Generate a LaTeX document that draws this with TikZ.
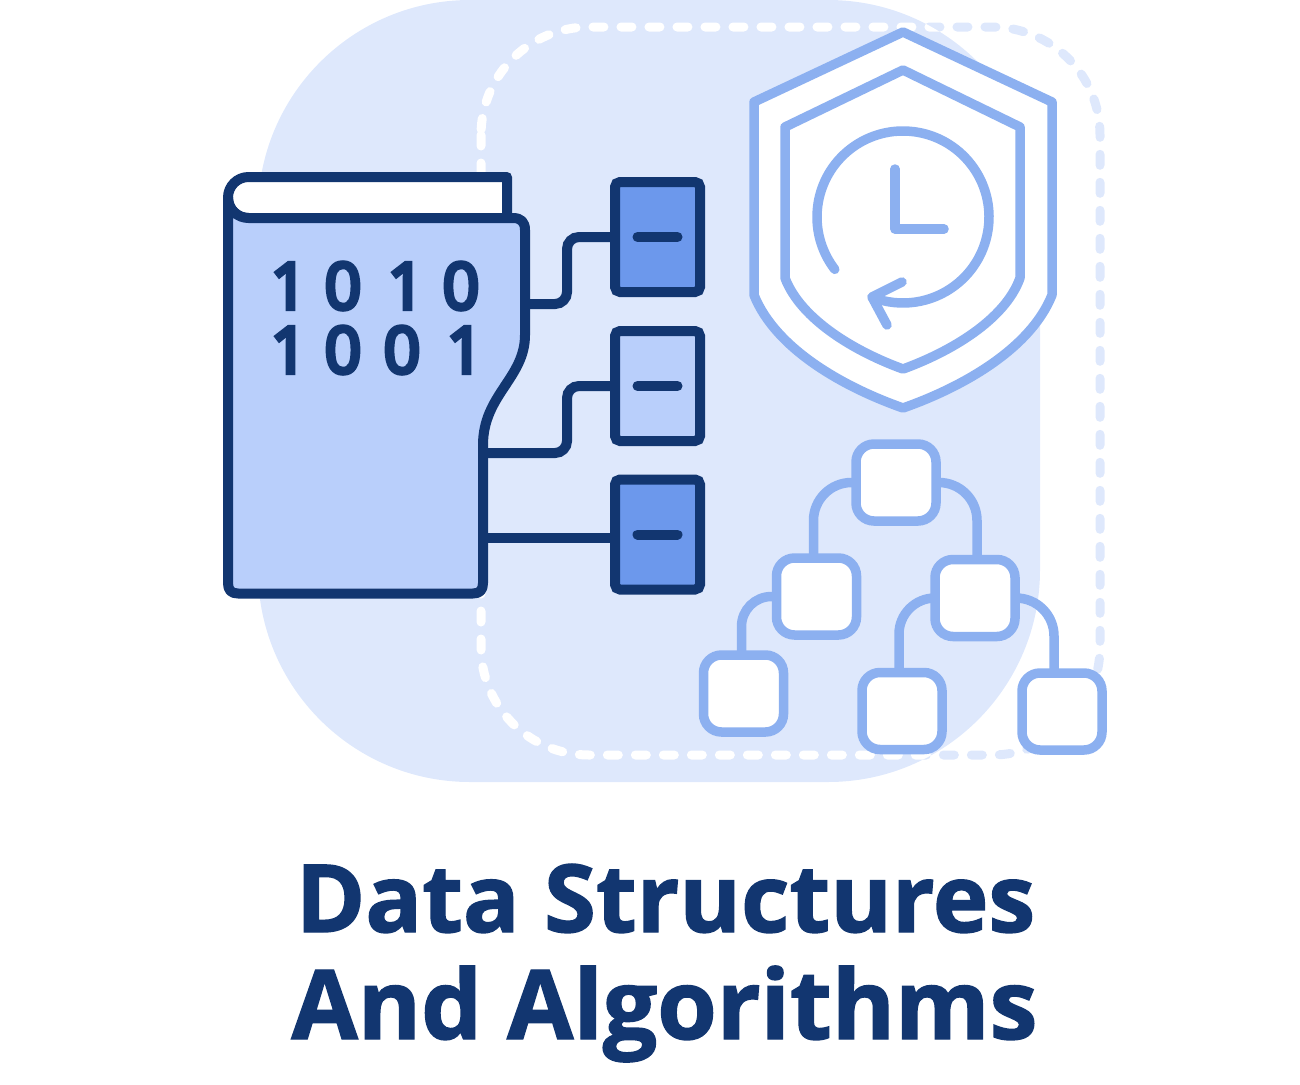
\documentclass[tikz,border=0pt]{standalone}
\usepackage{fontspec}
\setmainfont[BoldFeatures={FakeBold=1.5}]{Open Sans}
\newfontfamily\digitfont[FakeBold=7]{Open Sans}
\definecolor{mynavy}{RGB}{18,54,112}
\definecolor{mypale}{RGB}{222,232,252}
\definecolor{mylight}{RGB}{185,207,251}
\definecolor{mymid}{RGB}{108,152,236}
\definecolor{myline}{RGB}{140,176,240}
\usetikzlibrary{calc,positioning}
\tikzstyle{blockbox}=[draw=mynavy,line width=10pt,rectangle,rounded corners=5pt,minimum width=85pt,minimum height=110pt,inner sep=0pt,outer sep=0pt]
\tikzstyle{treebox}=[draw=myline,fill=white,line width=9.5pt,rectangle,rounded corners=18pt,minimum width=80pt,minimum height=77pt,inner sep=0pt,outer sep=0pt]
\tikzstyle{digit}=[text=mynavy,inner sep=0pt,font=\digitfont\fontsize{64}{64}\selectfont]
\tikzstyle{wire}=[draw=mynavy,line width=10pt,rounded corners=12pt]
\tikzstyle{treeline}=[draw=myline,line width=9.5pt]
\tikzstyle{dashline}=[line width=9pt,line cap=round,dash pattern=on 11pt off 17pt,rounded corners=108pt]
\tikzset{titletext/.style={text=mynavy,anchor=base,inner sep=0pt,font=\bfseries\fontsize{#1}{#1}\selectfont}}

\begin{document}
\begin{tikzpicture}[x=1pt,y=-1pt]
\useasboundingbox (0,0) rectangle (1300,1084);
\fill[mypale,rounded corners=212pt] (258,0) rectangle (1040,782);
\draw[dashline,draw=mypale] (481,27) rectangle (1100,755);
\begin{scope}
\clip[rounded corners=212pt] (258,0) rectangle (1040,782);
\draw[dashline,draw=white] (481,27) rectangle (1100,755);
\end{scope}
% book
\draw[draw=mynavy,fill=white,line width=10pt,line join=round] (507,218) -- (507,177) -- (248.5,177) arc[start angle=270,end angle=90,radius=20.5] -- cycle;
\draw[draw=mynavy,fill=mylight,line width=10pt,line join=round] (228,197.5) .. controls (228,210) and (238,218) .. (248.5,218) -- (513,218) .. controls (521,218) and (525,222) .. (525,230) -- (525,335) .. controls (525,378) and (483,395) .. (483,445) -- (483,583) .. controls (483,590) and (480,593.5) .. (473,593.5) -- (238,593.5) .. controls (231,593.5) and (228,590) .. (228,583) -- cycle;
\coordinate (p1) at (525,304);
\coordinate (p2) at (483,453);
\coordinate (p3) at (483,538);
\draw (289,286) node [digit] (d1) {1};
\draw (343,286) node [digit] (d2) {0};
\draw (406,286) node [digit] (d3) {1};
\draw (461,286) node [digit] (d4) {0};
\draw (289,350) node [digit] (d5) {1};
\draw (343,350) node [digit] (d6) {0};
\draw (402,350) node [digit] (d7) {0};
\draw (465,350) node [digit] (d8) {1};
% blocks
\draw (657.5,237) node [blockbox,fill=mymid] (b1) {};
\draw (657.5,386) node [blockbox,fill=mylight] (b2) {};
\draw (657.5,534.5) node [blockbox,fill=mymid] (b3) {};
\draw[wire] (p1) -| (567,237) -- (b1.west);
\draw[wire] (p2) -| (567,386) -- (b2.west);
\draw[draw=mynavy,line width=10pt] (p3) -- (p3 -| b3.west);
\draw[draw=mynavy,line width=10pt,line cap=round] ([xshift=-20pt]b1.center) -- ([xshift=20pt]b1.center);
\draw[draw=mynavy,line width=10pt,line cap=round] ([xshift=-20pt]b2.center) -- ([xshift=20pt]b2.center);
\draw[draw=mynavy,line width=10pt,line cap=round] ([xshift=-20pt]b3.center) -- ([xshift=20pt]b3.center);
% shield
\draw[draw=myline,fill=white,line width=9.5pt,line join=round] (903,32) -- (1052,102) -- (1052,295) .. controls (1030,350) and (960,388) .. (903,408) .. controls (846,388) and (776,350) .. (754,295) -- (754,102) -- cycle;
\draw[draw=myline,fill=white,line width=9.5pt,line join=round] (903,70) -- (1020,127) -- (1020,278) .. controls (1005,320) and (950,352) .. (903,369) .. controls (856,352) and (801,320) .. (785,278) -- (785,127) -- cycle;
\coordinate (clk) at (903,217);
\draw[draw=myline,line width=9.5pt,line cap=round] ($(clk)+(142.5:86)$) arc[start angle=142.5,end angle=471,radius=86];
\draw[draw=myline,line width=9.5pt,line cap=round,line join=round] (902,282) -- (872,297) -- (887,325);
\draw[draw=myline,line width=9.5pt,line cap=round,line join=round] (895,169) -- (895,229) -- (944,229);
% tree
\draw (896,482.5) node [treebox] (t1) {};
\draw (816.5,596.5) node [treebox] (t2) {};
\draw (975,598) node [treebox] (t3) {};
\draw (743.5,693.5) node [treebox] (t4) {};
\draw (902,711) node [treebox] (t5) {};
\draw (1062,711.5) node [treebox] (t6) {};
\draw[treeline,rounded corners=38pt] (t1.west) -| ([xshift=-3pt]t2.north);
\draw[treeline,rounded corners=38pt] (t1.east) -| ([xshift=2pt]t3.north);
\draw[treeline,rounded corners=30pt] (t2.west) -| ([xshift=-2pt]t4.north);
\draw[treeline,rounded corners=36pt] (t3.west) -| ([xshift=-3pt]t5.north);
\draw[treeline,rounded corners=38pt] (t3.east) -| ([xshift=-8pt]t6.north);
% title
\draw (665.5,932) node [titletext=94] (title1) {Data Structures};
\draw (664.5,1039) node [titletext=96.3] (title2) {And Algorithms};
\end{tikzpicture}
\end{document}
